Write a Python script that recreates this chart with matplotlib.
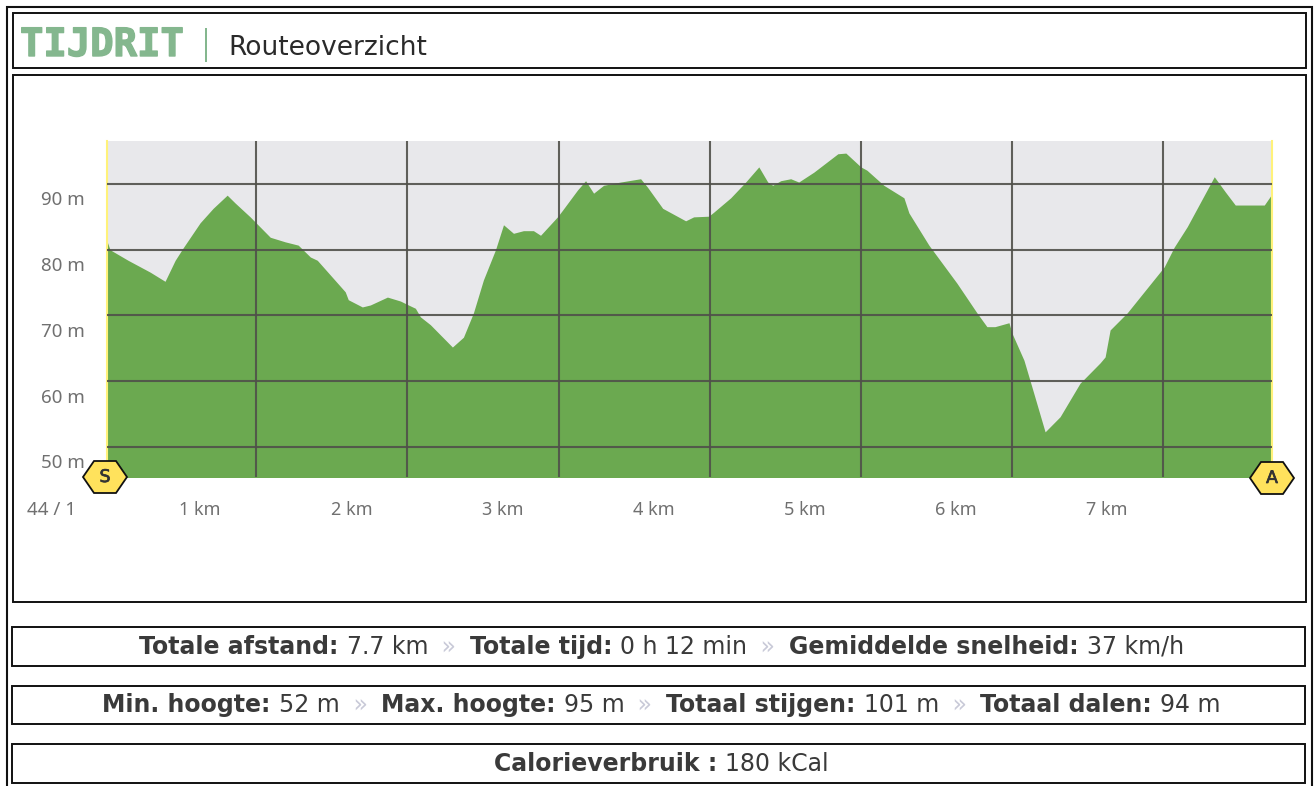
import matplotlib
matplotlib.use("Agg")
import matplotlib.pyplot as plt
import matplotlib.patheffects as pe
from matplotlib.patches import Rectangle, Polygon
from matplotlib.transforms import ScaledTranslation

W, H = 1316, 786

distance_km = [0.013, 0.033, 0.152, 0.298, 0.397, 0.464, 0.517, 0.629, 0.715, 0.808, 0.861, 0.960,
               1.093, 1.192, 1.278, 1.358, 1.404, 1.589, 1.609, 1.702, 1.755, 1.868, 1.954,
               2.007, 2.053, 2.086, 2.152, 2.298, 2.371, 2.437, 2.503, 2.583, 2.636, 2.702, 2.768, 2.834, 2.881, 2.993,
               3.026, 3.126, 3.179, 3.232, 3.298, 3.411, 3.543, 3.589, 3.689, 3.841, 3.894, 3.993,
               4.026, 4.139, 4.238, 4.325, 4.384, 4.417, 4.470, 4.536, 4.589, 4.689, 4.848, 4.901, 5.0,
               5.040, 5.152, 5.285, 5.318, 5.450, 5.636, 5.768, 5.834, 5.887, 5.980, 6.0,
               6.079, 6.132, 6.219, 6.318, 6.450, 6.583, 6.616, 6.649, 6.762, 7.007, 7.073, 7.159,
               7.338, 7.411, 7.477, 7.669, 7.72]
elevation_m = [81.3, 80.0, 78.4, 76.6, 75.2, 78.4, 80.3, 84.1, 86.3, 88.3, 87.1, 85.0,
               81.9, 81.2, 80.7, 78.9, 78.4, 73.6, 72.4, 71.3, 71.6, 72.8, 72.2,
               71.6, 71.1, 69.8, 68.6, 65.2, 66.7, 70.4, 75.4, 80.0, 83.8, 82.5, 82.9, 82.9, 82.2, 85.0,
               86.0, 89.1, 90.5, 88.6, 89.8, 90.3, 90.8, 89.5, 86.3, 84.4, 85.0, 85.1,
               85.7, 87.9, 90.3, 92.6, 90.3, 89.8, 90.5, 90.8, 90.3, 91.8, 94.6, 94.7, 92.6,
               92.1, 89.8, 87.9, 85.6, 80.7, 74.9, 70.4, 68.3, 68.3, 68.9, 67.3,
               63.2, 59.1, 52.3, 54.6, 59.7, 62.8, 63.7, 67.8, 70.4, 77.4, 80.4, 83.5,
               91.1, 88.8, 86.8, 86.8, 88.5]
km_ticks = [1, 2, 3, 4, 5, 6, 7]
km_labels = ["1 km", "2 km", "3 km", "4 km", "5 km", "6 km", "7 km"]
m_ticks = [50, 60, 70, 80, 90]
m_labels = ["50 m", "60 m", "70 m", "80 m", "90 m"]
title_main = "TIJDRIT"
title_sub = "Routeoverzicht"
origin_label = "44 / 1"
stat_lines = [
    [("Totale afstand:", "7.7 km"), ("Totale tijd:", "0 h 12 min"), ("Gemiddelde snelheid:", "37 km/h")],
    [("Min. hoogte:", "52 m"), ("Max. hoogte:", "95 m"), ("Totaal stijgen:", "101 m"), ("Totaal dalen:", "94 m")],
    [("Calorieverbruik :", "180 kCal")],
]

GREEN = "#6BA950"
BACK = "#E8E8EB"
GRID = "#50504A"
INK = "#111111"
TICK = "#707070"
TITLE = "#84B78E"

fig = plt.figure(figsize=(W / 100, H / 100), dpi=100, facecolor="white")


def fx(x):
    return x / W


def fy(y):
    return 1 - y / H


def frame(x0, y0, x1, y1, lw=1.4):
    fig.add_artist(Rectangle((fx(x0), fy(y1)), fx(x1) - fx(x0), fy(y0) - fy(y1), transform=fig.transFigure,
                             fill=False, edgecolor=INK, linewidth=lw, zorder=5))


frame(7, 7, 1312, 800, 1.5)
frame(13, 13, 1306, 68)
frame(13, 75, 1306, 602)
frame(12, 627, 1305, 666)
frame(12, 686, 1305, 724)
frame(12, 744, 1305, 783)

# plot area
ax = fig.add_axes([fx(107), fy(477.5), fx(1272) - fx(107), fy(141) - fy(477.5)], zorder=3)
ax.set_xlim(0.013, 7.72)
ax.set_ylim(45.36, 96.54)
ax.set_facecolor(BACK)
ax.fill_between(distance_km, elevation_m, 45.36, color=GREEN, linewidth=0, zorder=1)
ax.set_xticks(km_ticks, km_labels, fontfamily="Noto Sans", fontsize=13, color=TICK)
ax.set_yticks(m_ticks, m_labels, fontfamily="Noto Sans", fontsize=13.5, color=TICK)
ax.grid(True, color=GRID, linewidth=1.5, alpha=0.9, zorder=2)
ax.set_axisbelow(False)
ax.tick_params(length=0)
for s in ax.spines.values():
    s.set_visible(False)
for side in ("left", "right"):
    ax.spines[side].set_visible(True)
    ax.spines[side].set_color("#FFF27A")
    ax.spines[side].set_linewidth(1.5)

dpi_scale = fig.dpi_scale_trans
for lab in ax.get_xticklabels():
    lab.set_ha("center")
    lab.set_transform(lab.get_transform() + ScaledTranslation(-0.56, -0.19, dpi_scale))
for lab in ax.get_yticklabels():
    lab.set_transform(lab.get_transform() + ScaledTranslation(-0.17, -0.145, dpi_scale))

fig.text(fx(52), fy(510), origin_label, ha="center", va="center", family="Noto Sans", fontsize=13.5, color=TICK)


def hexagon(cx, cy, label):
    w, h, c = 22, 16, 11
    pts = [(cx - w, cy), (cx - w + c, cy - h), (cx + w - c, cy - h), (cx + w, cy), (cx + w - c, cy + h), (cx - w + c, cy + h)]
    fig.add_artist(Polygon([(fx(a), fy(b)) for a, b in pts], closed=True, transform=fig.transFigure,
                           facecolor="#FFE25C", edgecolor="#111111", linewidth=1.3, zorder=6))
    fig.text(fx(cx), fy(cy), label, ha="center", va="center", family="DejaVu Sans", fontsize=12.5,
             color="#333333", zorder=7, path_effects=[pe.withStroke(linewidth=0.5, foreground="#333333")])


hexagon(105, 477, "S")
hexagon(1272, 478, "A")

# header
fig.text(fx(20), fy(56), title_main, ha="left", va="baseline", family="DejaVu Sans Mono", fontweight="bold",
         fontsize=28, color=TITLE, path_effects=[pe.withStroke(linewidth=1.0, foreground=TITLE)])
fig.add_artist(Rectangle((fx(205), fy(62)), 2.5 / W, 34 / H, transform=fig.transFigure, facecolor=TITLE, edgecolor="none"))
fig.text(fx(228), fy(55), title_sub, ha="left", va="baseline", family="DejaVu Sans", fontsize=19, color="#2A2A2A")

# stat lines: runs of bold and regular text laid end to end, centred on one baseline
renderer = fig.canvas.get_renderer()
SEP_EXTRA = 12
for row, y in zip(stat_lines, (654, 712, 771)):
    parts = []
    for i, (b, v) in enumerate(row):
        if i:
            parts.append((" \u00bb ", "normal", "#C9CAD8"))
        parts.append((b + " ", "bold", "#3A3A3A"))
        parts.append((v, "normal", "#3A3A3A"))
    arts = [fig.text(0, fy(y), t, ha="left", va="baseline", family="DejaVu Sans", fontsize=17,
                     fontweight=wt, color=c) for t, wt, c in parts]
    widths = [a.get_window_extent(renderer).width + (SEP_EXTRA if t.startswith(" ") else 0)
              for a, (t, _, _) in zip(arts, parts)]
    x = 661.5 - sum(widths) / 2
    for a, wd, (t, _, _) in zip(arts, widths, parts):
        a.set_x(fx(x + (SEP_EXTRA / 2 if t.startswith(" ") else 0)))
        x += wd

fig.savefig("out.png", dpi=100)
